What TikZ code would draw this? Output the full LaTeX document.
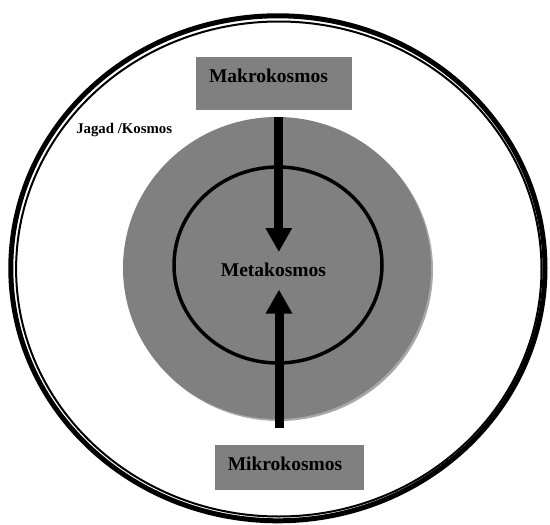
\documentclass[tikz,border=0pt]{standalone}
\usepackage{fontspec}
\setmainfont{Liberation Serif}
\usetikzlibrary{arrows.meta}
\definecolor{midgray}{HTML}{808080}
\definecolor{shadowgray}{HTML}{A8A8A8}
\tikzset{
  graybox/.style={fill=midgray, draw=none, inner sep=0pt},
  biglabel/.style={font=\fontsize{19.5}{22}\selectfont\bfseries, inner sep=0pt, anchor=base},
  smalllabel/.style={font=\fontsize{14.8}{17}\selectfont\bfseries, inner sep=0pt, anchor=base},
  flowarrow/.style={line width=9pt, -{Triangle[width=25pt 0, length=24pt 0]}, draw=black}
}
\begin{document}
\begin{tikzpicture}[x=1pt, y=-1pt]
\useasboundingbox (0,0) rectangle (550,525);
% outer double ellipse
\draw[line width=5pt] (277.9,268.3) ellipse [x radius=267.1pt, y radius=252.5pt];
\draw[line width=2pt] (278.8,269.0) ellipse [x radius=262.7pt, y radius=247.5pt];
% gray disc with soft shadow
\fill[shadowgray] (279,270) ellipse [x radius=154pt, y radius=151pt];
\fill[midgray] (277,268) ellipse [x radius=154pt, y radius=151pt];
% inner ellipse
\draw[line width=3.5pt] (278,265) ellipse [x radius=104pt, y radius=98pt];
% boxes
\node[graybox, minimum width=156pt, minimum height=53pt] (mak) at (274,83.5) {};
\node[graybox, minimum width=149pt, minimum height=45pt] (mik) at (289.5,467.5) {};
% labels
\node[biglabel] (makt) at (268.5,82) {Makrokosmos};
\node[biglabel] (metat) at (273.4,276.7) {Metakosmos};
\node[biglabel] (mikt) at (285,470.7) {Mikrokosmos};
\node[smalllabel] (jagad) at (124.2,133.3) {Jagad /Kosmos};
% arrows
\coordinate (downstart) at (278.8,117);
\coordinate (downend) at (278.8,252);
\coordinate (upstart) at (279,428);
\coordinate (upend) at (279,289.5);
\draw[flowarrow] (downstart) -- (downend);
\draw[flowarrow] (upstart) -- (upend);
\end{tikzpicture}
\end{document}
